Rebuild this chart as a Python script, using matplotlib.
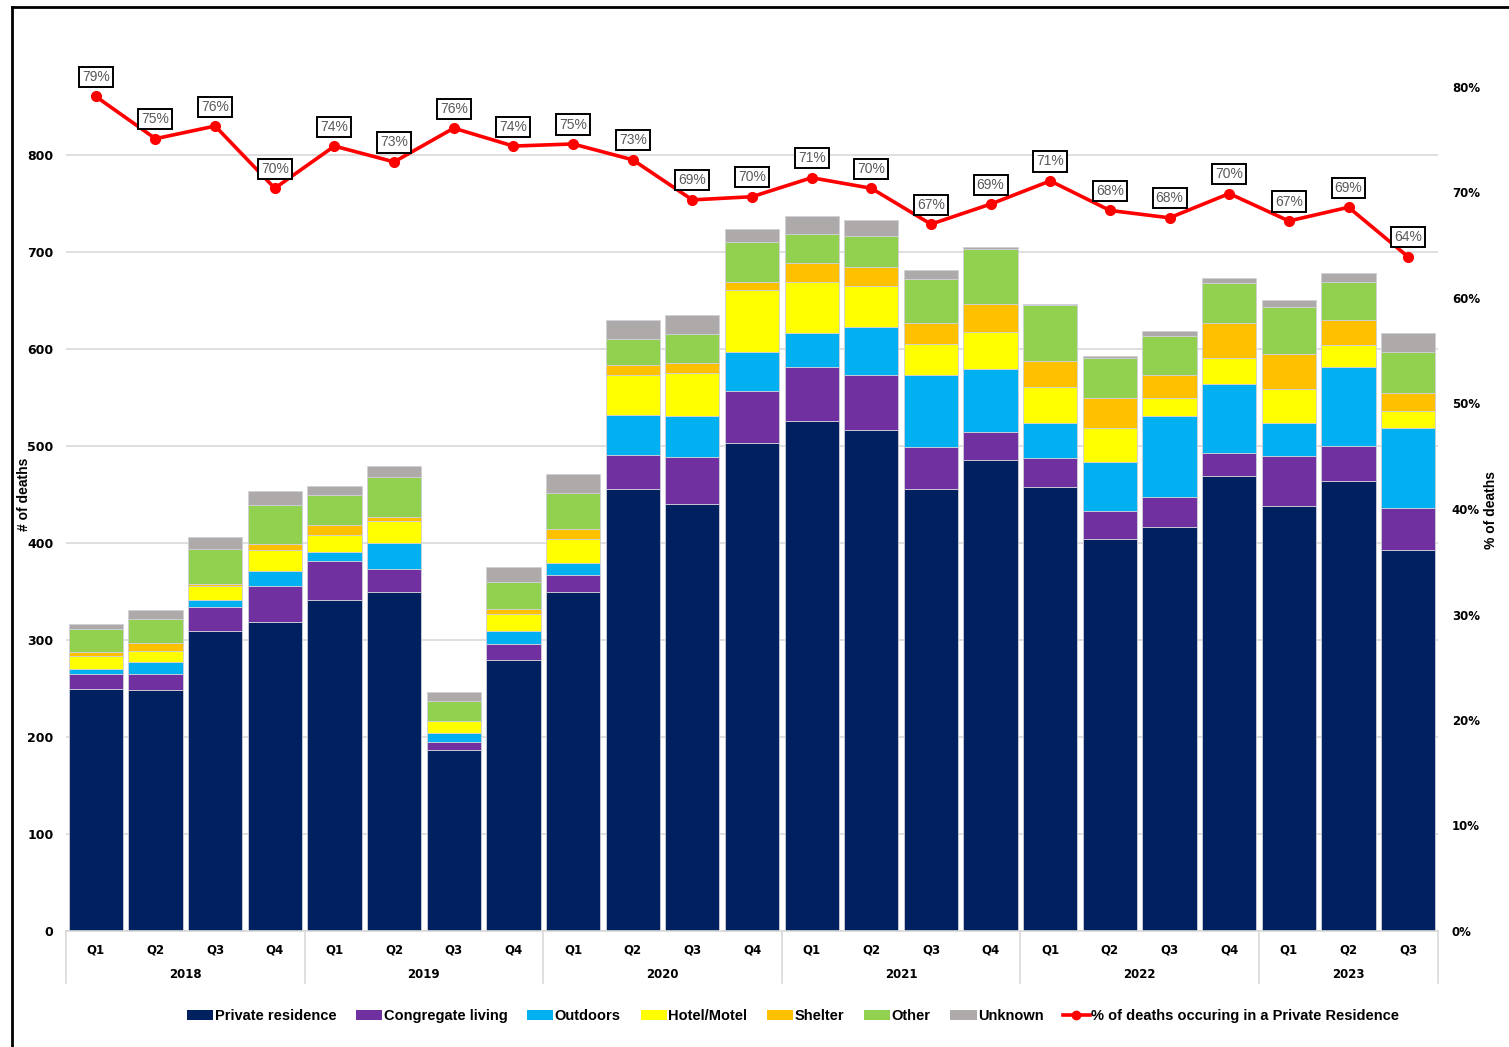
import matplotlib
matplotlib.use('Agg')
from matplotlib import pyplot as plt
from matplotlib.lines import Line2D
from matplotlib.patches import Patch
from matplotlib.ticker import FuncFormatter
import numpy as np

quarters = ['Q1', 'Q2', 'Q3', 'Q4'] * 5 + ['Q1', 'Q2', 'Q3']
years = ['2018', '2019', '2020', '2021', '2022', '2023']

private_residence = [249, 248, 309, 319, 341, 349, 187, 279, 350, 456, 440, 503,
                     526, 516, 456, 486, 458, 404, 417, 469, 438, 464, 393]
congregate_living = [16, 17, 25, 37, 40, 24, 8, 17, 17, 35, 49, 54,
                     55, 57, 43, 28, 30, 29, 30, 24, 52, 36, 43]
outdoors = [5, 12, 7, 15, 10, 27, 9, 13, 12, 41, 42, 40,
            36, 50, 74, 65, 36, 51, 84, 71, 34, 81, 83]
hotel_motel = [14, 12, 15, 22, 17, 23, 13, 18, 25, 41, 44, 64,
               52, 42, 32, 39, 37, 35, 18, 27, 35, 23, 17]
shelter = [4, 8, 2, 6, 11, 4, 0, 5, 10, 10, 11, 8,
           20, 20, 22, 28, 27, 30, 24, 36, 36, 26, 19]
other = [23, 25, 36, 40, 30, 41, 20, 28, 38, 27, 29, 41,
         30, 31, 45, 57, 57, 42, 40, 41, 48, 39, 42]
unknown = [5, 9, 12, 15, 10, 11, 9, 15, 19, 20, 20, 14,
           18, 17, 9, 2, 1, 2, 6, 5, 8, 9, 19]

pct_private = [0.791, 0.751, 0.763, 0.704, 0.744, 0.729, 0.761, 0.744, 0.746, 0.731,
               0.693, 0.696, 0.714, 0.704, 0.670, 0.689, 0.711, 0.683, 0.676, 0.699,
               0.673, 0.686, 0.639]

series_names = ['Private residence', 'Congregate living', 'Outdoors', 'Hotel/Motel',
                'Shelter', 'Other', 'Unknown']
series_colors = ['#002060', '#7030A0', '#00B0F0', '#FFFF00', '#FFC000', '#92D050', '#AEAAAA']
line_label = '% of deaths occuring in a Private Residence'

W, H = 1509, 1047
fig = plt.figure(figsize=(W / 100, H / 100), dpi=100)
ax = fig.add_axes([66 / W, (H - 931) / H, 1372 / W, 873 / H])

x = np.arange(len(quarters))
bottom = np.zeros(len(quarters))
all_series = [private_residence, congregate_living, outdoors, hotel_motel, shelter, other, unknown]
for vals, color in zip(all_series, series_colors):
    ax.bar(x, vals, width=0.91, bottom=bottom, color=color, edgecolor='#d0d0d8', linewidth=0.6, zorder=2)
    bottom += np.array(vals)

ax.set_xlim(-0.5, len(quarters) - 0.5)
ax.set_ylim(0, 900)
ax.set_yticks(range(0, 900, 100))
ax.yaxis.grid(True, color='#d9d9d9', linewidth=1.2, zorder=0)
ax.set_axisbelow(True)
for s in ['top', 'right', 'left']:
    ax.spines[s].set_visible(False)
ax.spines['bottom'].set_color('#d9d9d9')
ax.spines['bottom'].set_linewidth(1.2)
ax.set_xticks([])
ax.tick_params(axis='y', length=0, pad=9, labelsize=9)
for lbl in ax.get_yticklabels():
    lbl.set_fontweight('bold')
ax.set_ylabel('# of deaths', fontsize=10, fontweight='bold', family='Liberation Sans')
ax.yaxis.set_label_coords((31 - 66) / 1372, 0.5)

# two level category axis
trans = ax.get_xaxis_transform()
for i, q in enumerate(quarters):
    ax.text(i, -0.022, q, transform=trans, ha='center', va='center', fontsize=8.5, fontweight='bold')
year_starts = list(range(0, len(quarters), 4))
for k, yr in enumerate(years):
    start = year_starts[k]
    end = min(start + 4, len(quarters))
    ax.text((start + end - 1) / 2, -0.05, yr, transform=trans, ha='center', va='center',
            fontsize=8.5, fontweight='bold')
for b in year_starts + [len(quarters)]:
    ax.plot([b - 0.5, b - 0.5], [0, -0.06], transform=trans, color='#d9d9d9', linewidth=1.2, clip_on=False)

ax2 = ax.twinx()
ax2.set_ylim(0, 873 / 10.55 / 100)
ax2.set_yticks(np.arange(0, 0.81, 0.1))
ax2.yaxis.set_major_formatter(FuncFormatter(lambda v, p: '{:.0f}%'.format(v * 100)))
ax2.tick_params(axis='y', length=0, pad=10, labelsize=8.5)
for lbl in ax2.get_yticklabels():
    lbl.set_fontweight('bold')
for s in ['top', 'right', 'left', 'bottom']:
    ax2.spines[s].set_visible(False)
ax2.set_ylabel('% of deaths', fontsize=10, fontweight='bold', family='Liberation Sans')
ax2.yaxis.set_label_coords((1484 - 66) / 1372, (931 - 510) / 873)
ax2.plot(x, pct_private, color='#FF0000', linewidth=2.6, marker='o', markersize=7, zorder=3)
for i, v in enumerate(pct_private):
    ax2.annotate('{:.0f}%'.format(v * 100), (i, v), xytext=(0, 14), textcoords='offset points',
                 ha='center', va='center', fontsize=10, color='#595959', family='Liberation Sans',
                 bbox=dict(boxstyle='square,pad=0.22', facecolor='white', edgecolor='black', linewidth=1.4))

handles = [Patch(facecolor=c, edgecolor='none') for c in series_colors]
handles.append(Line2D([0], [0], color='#FF0000', linewidth=2.6, marker='o', markersize=6))
fig.legend(handles, series_names + [line_label], loc='center', bbox_to_anchor=(793 / W, 1 - 1016 / H),
           ncol=8, frameon=False, handlelength=1.8, handleheight=0.7, handletextpad=0.1, columnspacing=1.35,
           prop={'family': 'Liberation Sans', 'weight': 'bold', 'size': 10.5})

# outer chart frame
fig.add_artist(Line2D([12 / W, 12 / W], [0, 1 - 7 / H], color='black', linewidth=2))
fig.add_artist(Line2D([12 / W, 1], [1 - 7 / H, 1 - 7 / H], color='black', linewidth=2))

plt.savefig('out.png', dpi=100)
plt.close()
